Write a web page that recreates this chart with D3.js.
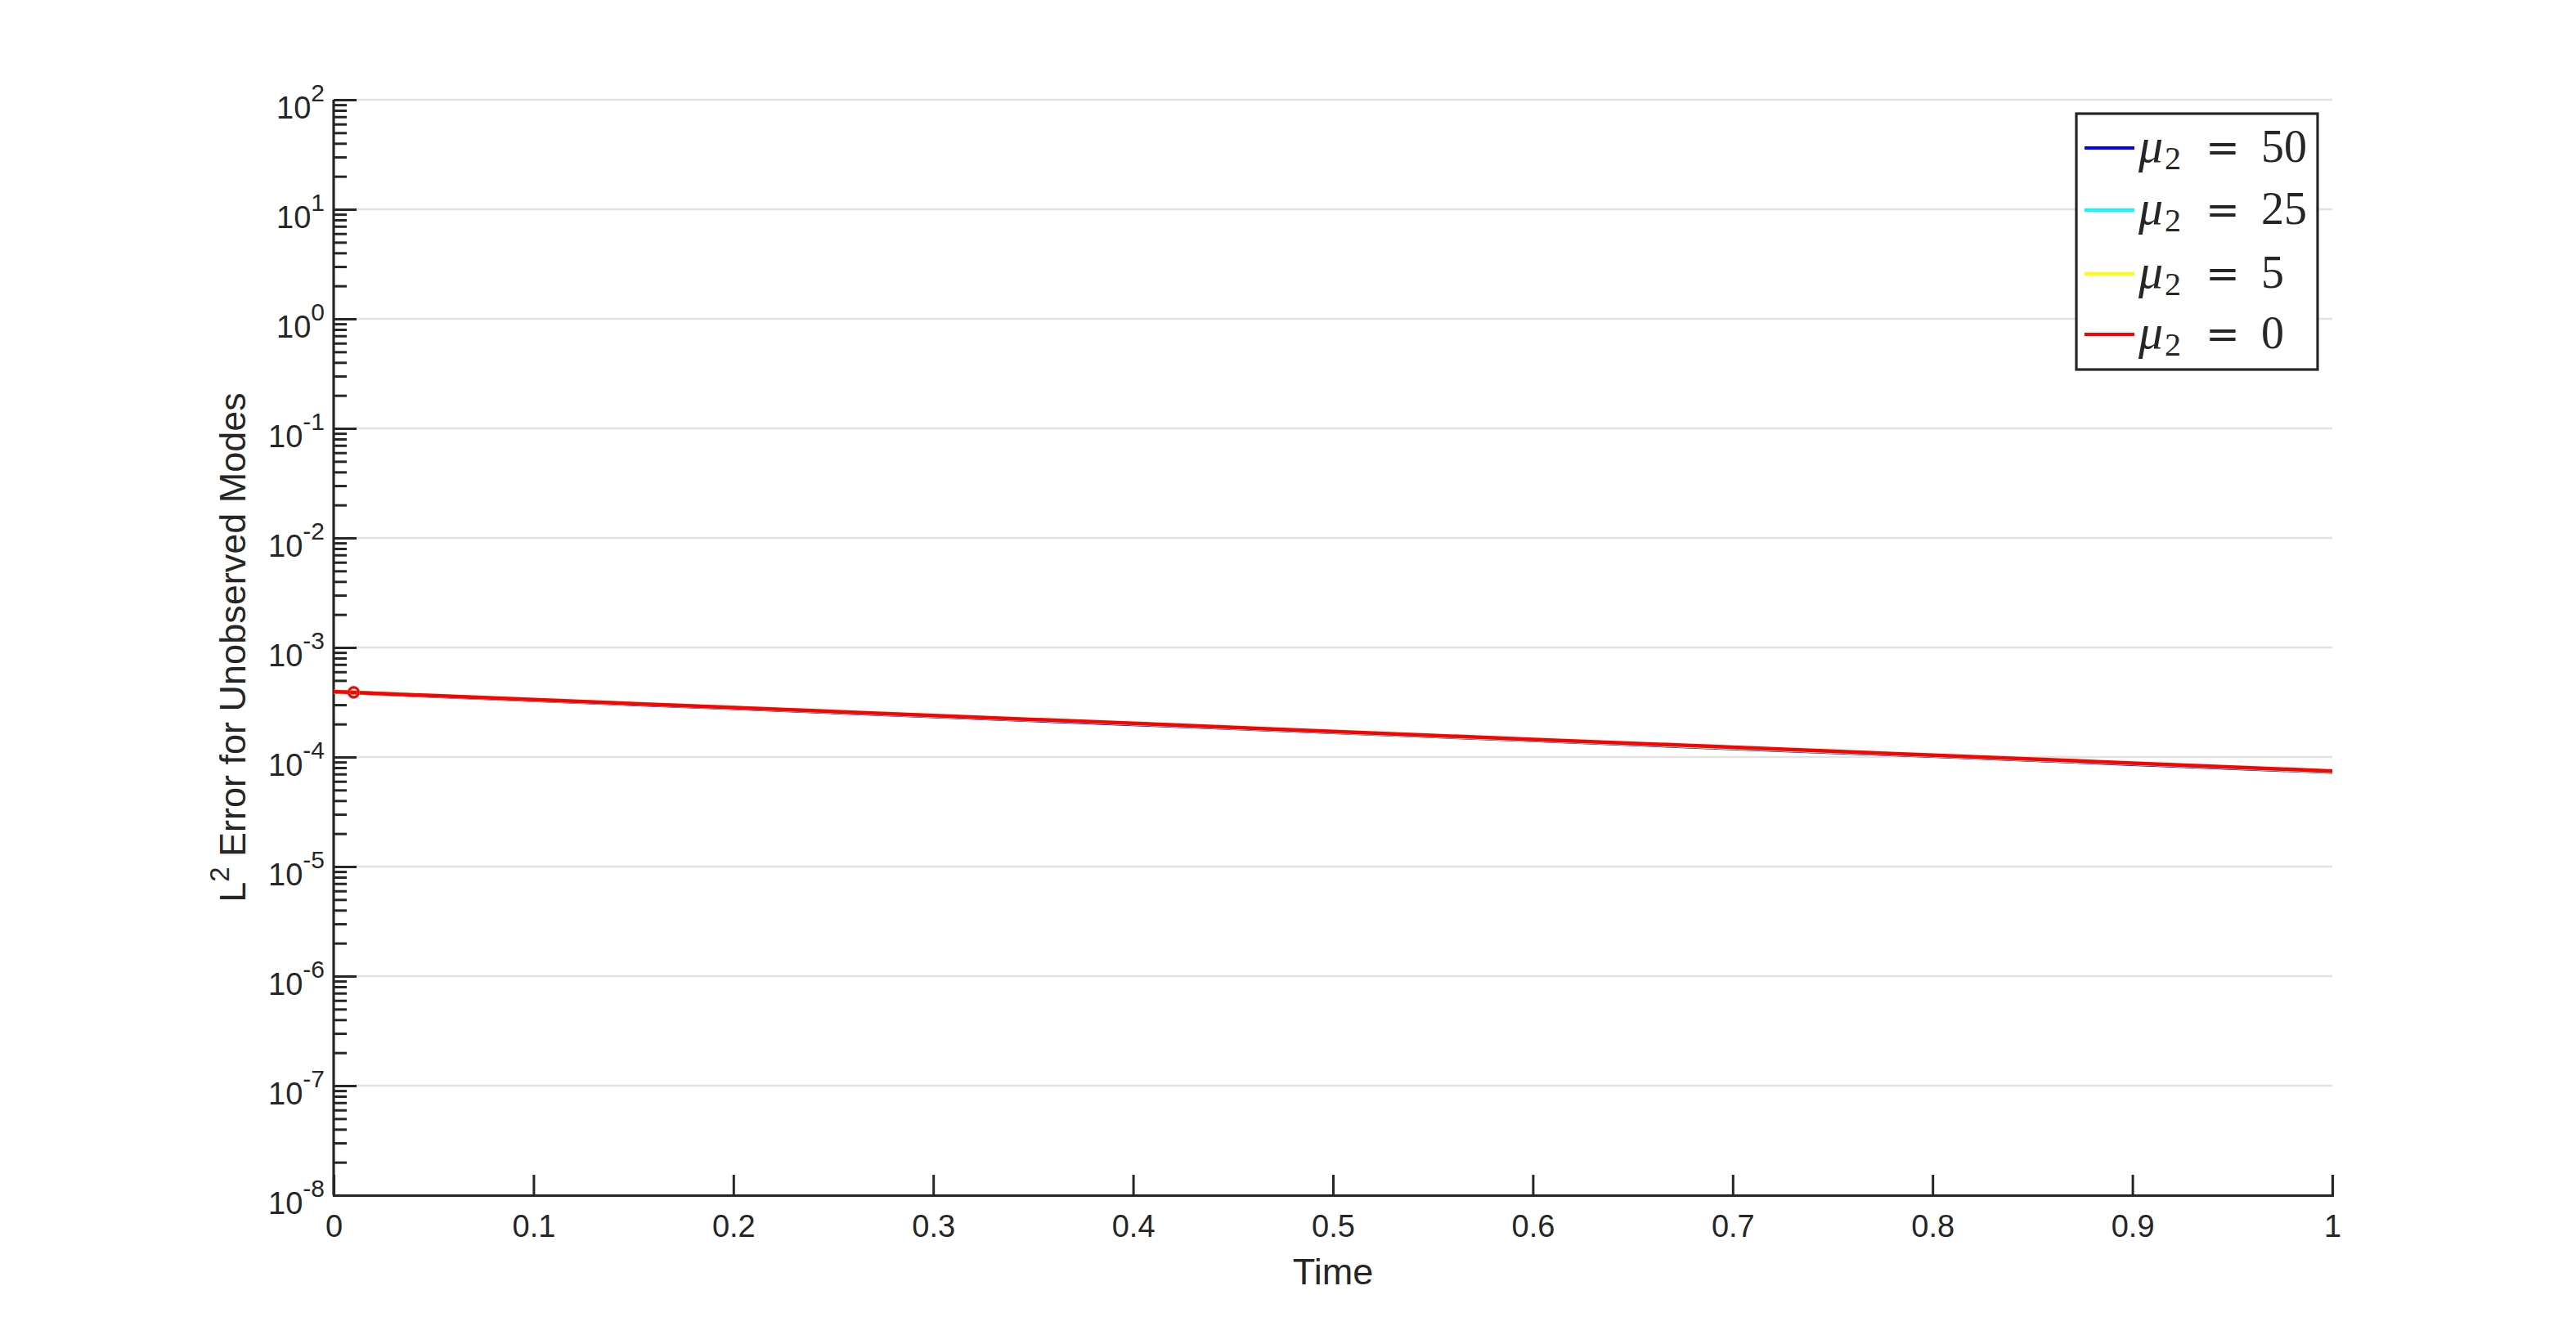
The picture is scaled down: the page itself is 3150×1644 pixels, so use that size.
<!DOCTYPE html>
<html>
<head>
<meta charset="utf-8">
<script src="https://cdn.jsdelivr.net/npm/d3@7"></script>
<style>
  html, body { margin: 0; padding: 0; background: #fff; }
  svg { display: block; }
  text { font-family: "Liberation Sans", Arial, Helvetica, sans-serif; fill: #262626; }
</style>
</head>
<body>
<svg id="chart"></svg>
<script>
// datos
const times = [0, 0.1, 0.2, 0.3, 0.4, 0.5, 0.6, 0.7, 0.8, 0.9, 1.0];
const err50 = [3.93e-4, 3.30e-4, 2.79e-4, 2.35e-4, 1.99e-4, 1.68e-4, 1.42e-4, 1.20e-4, 1.02e-4, 8.6e-5, 7.3e-5];
const err25 = [3.94e-4, 3.32e-4, 2.81e-4, 2.37e-4, 2.01e-4, 1.69e-4, 1.43e-4, 1.21e-4, 1.03e-4, 8.7e-5, 7.35e-5];
const err5  = [3.95e-4, 3.33e-4, 2.82e-4, 2.38e-4, 2.02e-4, 1.70e-4, 1.44e-4, 1.22e-4, 1.035e-4, 8.75e-5, 7.4e-5];
const err0  = [3.95e-4, 3.34e-4, 2.83e-4, 2.39e-4, 2.03e-4, 1.71e-4, 1.45e-4, 1.23e-4, 1.04e-4, 8.8e-5, 7.45e-5];
const markerTime = 0.01;
const markerErr = [3.88e-4, 3.89e-4, 3.90e-4, 3.90e-4];
const seriesNames = ["50", "25", "5", "0"];
const seriesColors = ["#0000ff", "#00ffff", "#ffff00", "#ff0000"];
const xTicks = [0, 0.1, 0.2, 0.3, 0.4, 0.5, 0.6, 0.7, 0.8, 0.9, 1];
const yExponents = [2, 1, 0, -1, -2, -3, -4, -5, -6, -7, -8];

const series = [err50, err25, err5, err0];

// Dimensiones
const W = 3150, H = 1644;
const margin = { left: 408, right: 3150 - 2852, top: 122, bottom: 1644 - 1462 };
const innerW = W - margin.left - margin.right;
const innerH = H - margin.top - margin.bottom;

const svg = d3.select("#chart").attr("width", W).attr("height", H);
const g = svg.append("g").attr("transform", `translate(${margin.left},${margin.top})`);

const x = d3.scaleLinear().domain([0, 1]).range([0, innerW]);
const y = d3.scaleLog().domain([1e-8, 1e2]).range([innerH, 0]);

// Rejilla horizontal
g.append("g")
  .selectAll("line")
  .data(yExponents)
  .join("line")
  .attr("x1", 0).attr("x2", innerW)
  .attr("y1", d => y(Math.pow(10, d))).attr("y2", d => y(Math.pow(10, d)))
  .attr("stroke", "#e3e3e3")
  .attr("stroke-width", 2.6);

// Eje X
const xAxis = g.append("g")
  .attr("transform", `translate(0,${innerH})`)
  .call(d3.axisBottom(x).tickValues(xTicks).tickSize(-25).tickPadding(30).tickFormat(d3.format("")));
xAxis.select(".domain").attr("stroke", "#262626").attr("stroke-width", 3.2);
xAxis.selectAll(".tick line").attr("stroke", "#262626").attr("stroke-width", 3);
xAxis.selectAll(".tick text")
  .attr("font-size", 38)
  .attr("fill", "#262626")
  .attr("dy", "0.71em")
  .attr("y", 24);

// Eje Y (mayores y menores)
const majors = yExponents.map(e => Math.pow(10, e));
const minors = [];
for (let e = -8; e < 2; e++) for (let k = 2; k <= 9; k++) minors.push(k * Math.pow(10, e));

const yAxis = g.append("g")
  .call(d3.axisRight(y).tickValues(majors).tickSize(28).tickFormat(""));
yAxis.select(".domain").attr("stroke", "#262626").attr("stroke-width", 3.2)
  .attr("d", `M0,${innerH}V0`);
yAxis.selectAll(".tick line").attr("stroke", "#262626").attr("stroke-width", 3);

const yMinor = g.append("g")
  .call(d3.axisRight(y).tickValues(minors).tickSize(16).tickFormat(""));
yMinor.select(".domain").remove();
yMinor.selectAll(".tick line").attr("stroke", "#262626").attr("stroke-width", 3);

// Etiquetas 10^n
const yLab = g.append("g")
  .selectAll("text")
  .data(yExponents)
  .join("text")
  .attr("text-anchor", "end")
  .attr("x", -11)
  .attr("y", d => y(Math.pow(10, d)) + 23)
  .attr("font-size", 38);
yLab.append("tspan").text("10");
yLab.append("tspan").attr("dy", -21).attr("font-size", 30).text(d => d);

// Titulos de ejes
g.append("text")
  .attr("x", innerW / 2)
  .attr("y", 1571 - margin.top)
  .attr("text-anchor", "middle")
  .attr("font-size", 45)
  .text("Time");

const yTitle = g.append("text")
  .attr("transform", `translate(${300 - margin.left},${innerH / 2}) rotate(-90)`)
  .attr("text-anchor", "middle")
  .attr("font-size", 45);
yTitle.append("tspan").text("L");
yTitle.append("tspan").attr("dy", -20).attr("font-size", 33).text("2");
yTitle.append("tspan").attr("dy", 20).text(" Error for Unobserved Modes");

// Lineas
const line = d3.line()
  .x((d, i) => x(times[i]))
  .y(d => y(d));

g.append("g")
  .selectAll("path")
  .data(series)
  .join("path")
  .attr("d", line)
  .attr("fill", "none")
  .attr("stroke", (d, i) => seriesColors[i])
  .attr("stroke-width", 4.5)
  .attr("stroke-linejoin", "round");

// Marcadores
g.append("g")
  .selectAll("circle")
  .data(markerErr)
  .join("circle")
  .attr("cx", x(markerTime))
  .attr("cy", d => y(d))
  .attr("r", 6)
  .attr("fill", "none")
  .attr("stroke", (d, i) => seriesColors[i])
  .attr("stroke-width", 3);

// Leyenda
const leg = svg.append("g").attr("transform", "translate(2539,139)");
leg.append("rect")
  .attr("width", 295).attr("height", 313)
  .attr("fill", "#fff")
  .attr("stroke", "#262626")
  .attr("stroke-width", 3.2);

const rowY = [42, 118, 196, 270];
const rows = leg.selectAll("g.row")
  .data(seriesNames)
  .join("g")
  .attr("class", "row")
  .attr("transform", (d, i) => `translate(0,${rowY[i]})`);

rows.append("line")
  .attr("x1", 10).attr("x2", 71)
  .attr("stroke", (d, i) => seriesColors[i])
  .attr("stroke-width", 4);

const lt = rows.append("text")
  .attr("y", 17)
  .style("font-family", "'Liberation Serif', 'DejaVu Serif', serif")
  .attr("font-size", 56)
  .attr("fill", "#000");
lt.append("tspan").attr("x", 76).attr("font-style", "italic").attr("font-size", 60).text("\u03bc");
lt.append("tspan").attr("x", 108).attr("dy", 9).attr("font-size", 40).text("2");
lt.append("tspan").attr("x", 158).attr("dy", -9)
  .style("font-family", "'DejaVu Serif', serif").attr("font-size", 50).text("=");
lt.append("tspan").attr("x", 226).text(d => d);
</script>
</body>
</html>
